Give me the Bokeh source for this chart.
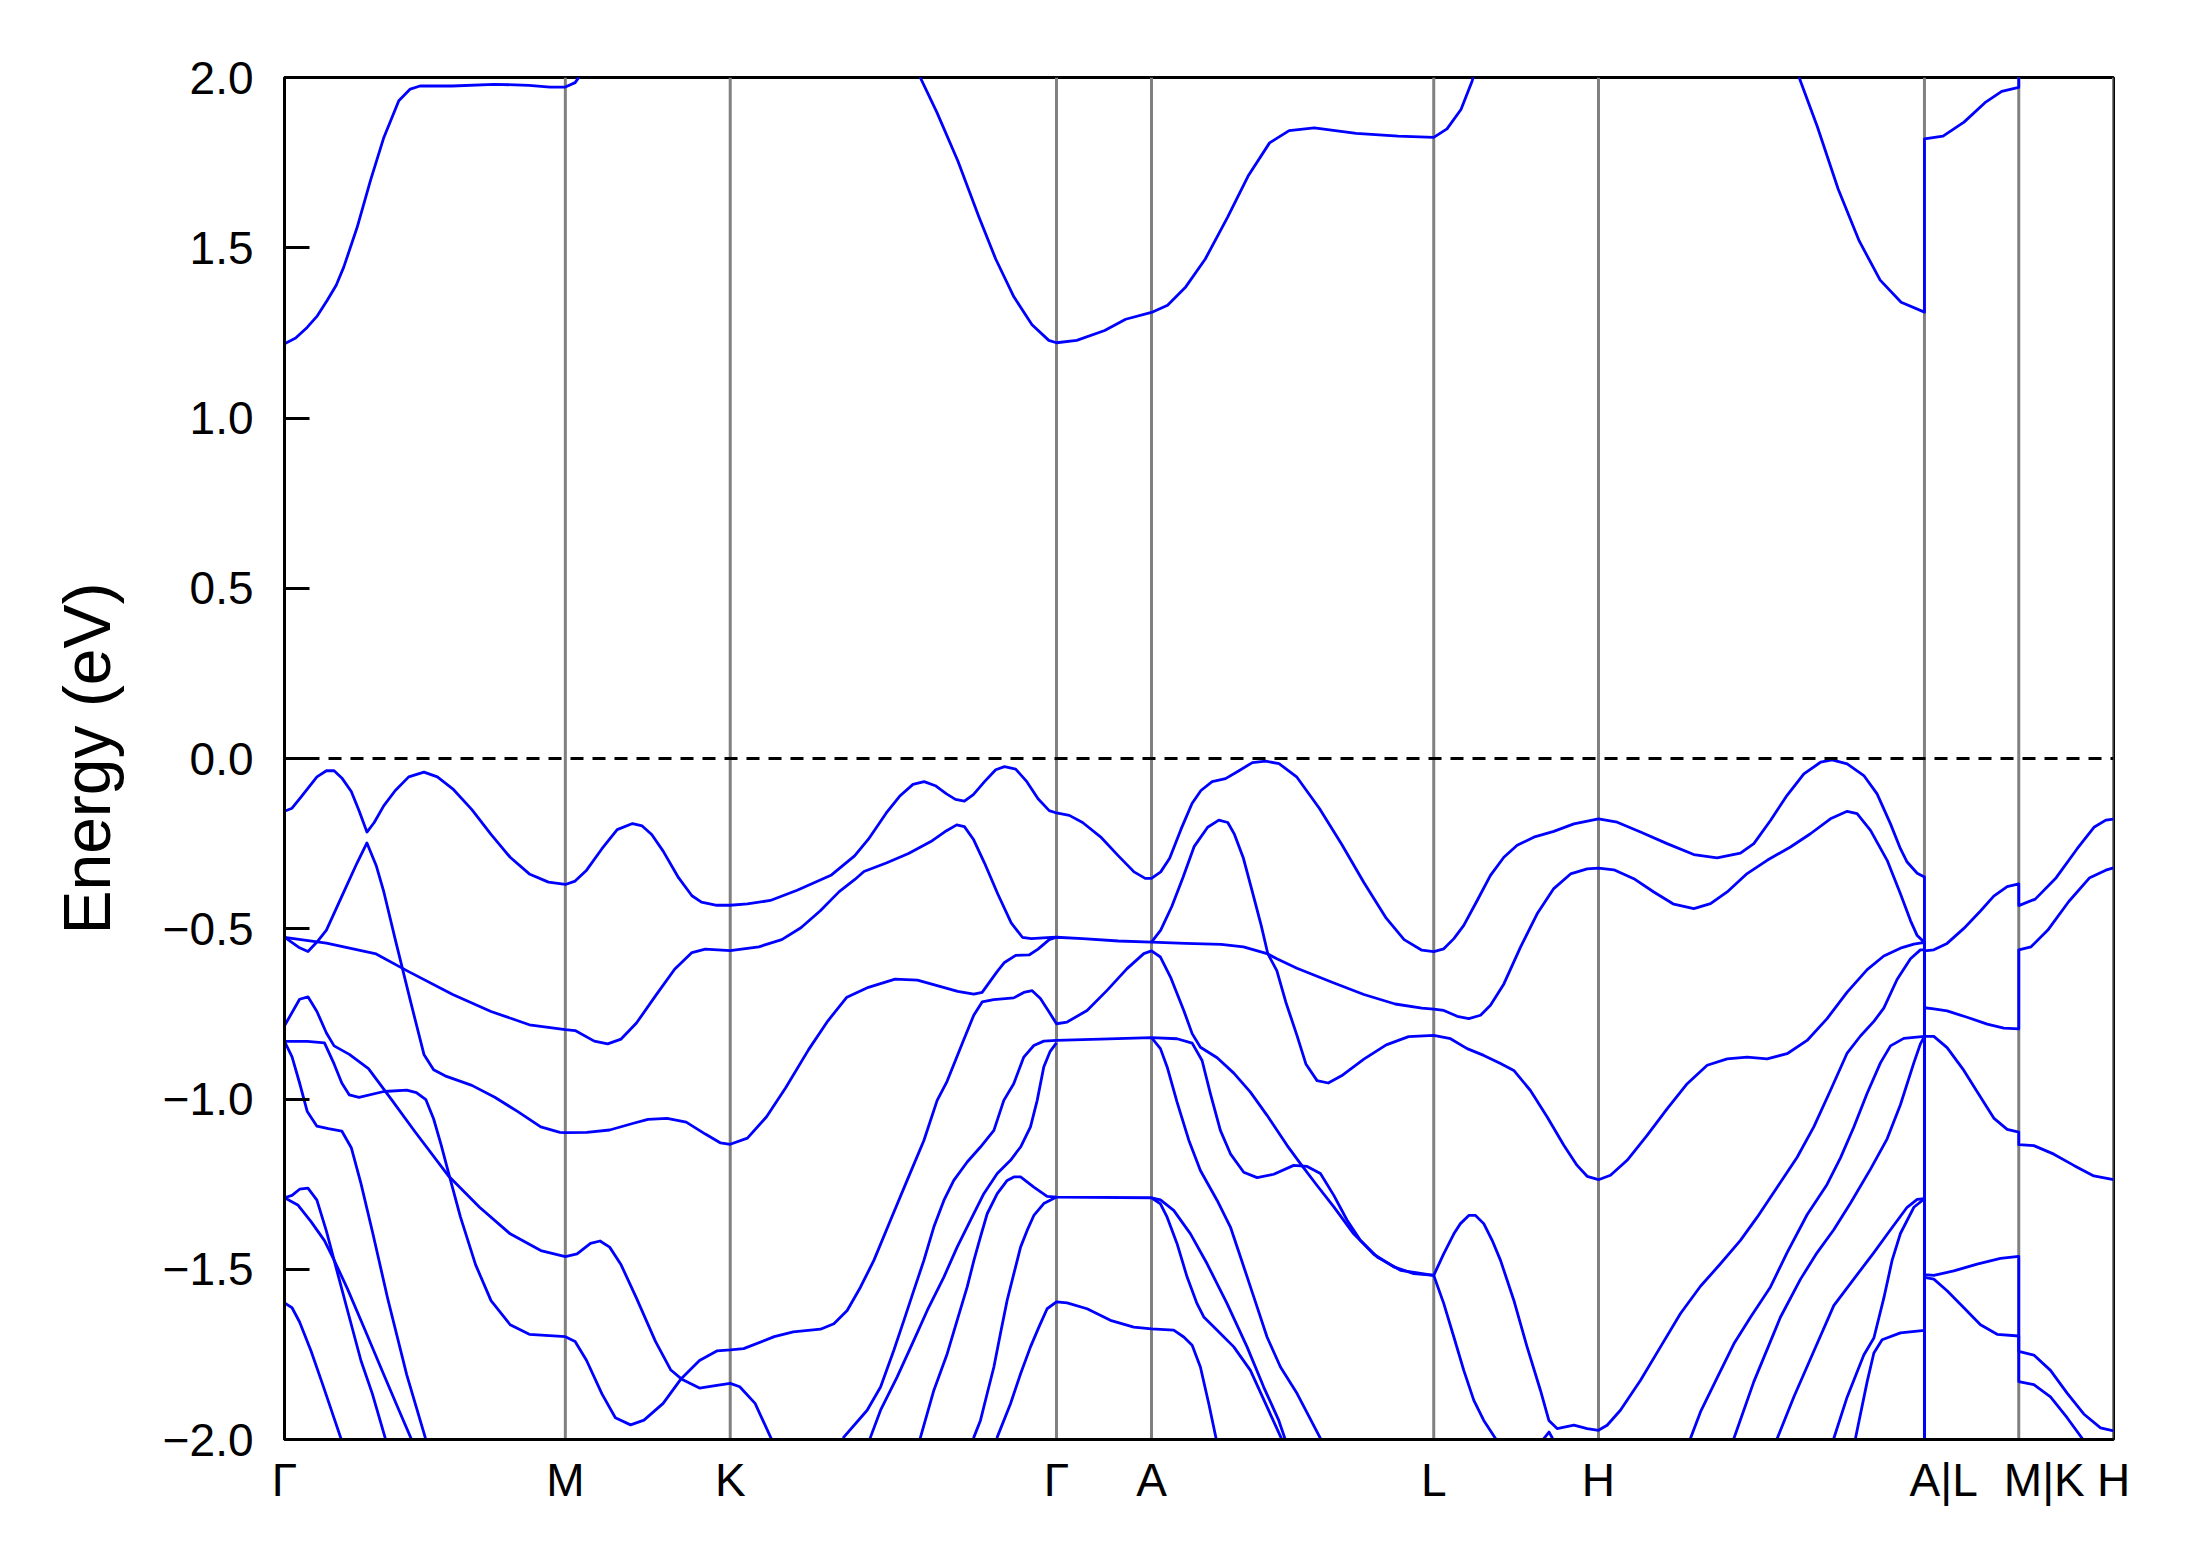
from bokeh.plotting import figure
from bokeh.models import Range1d, FixedTicker, Span
from bokeh.embed import file_html
from bokeh.resources import INLINE

# ---- high-symmetry path (k-distance) and labels ----
kpath_ticks = [0.0, 2.01, 3.19, 5.525, 6.205, 8.225, 9.404, 11.737, 12.412, 13.09]
kpath_labels = ["Γ", "M", "K", "Γ", "A", "L", "H", "\u00a0\u00a0\u00a0A|L", "\u00a0\u00a0\u00a0\u00a0M|K", "H"]
energy_ticks = [-2.0, -1.5, -1.0, -0.5, 0.0, 0.5, 1.0, 1.5, 2.0]
energy_labels = ["\u22122.0", "\u22121.5", "\u22121.0", "\u22120.5", "0.0", "0.5", "1.0", "1.5", "2.0"]

# ---- band curves (k, E in eV) ----
# top valence band: Γ-M-K
k_top_a = [0, 0.054, 0.122, 0.232, 0.30, 0.355, 0.41, 0.478, 0.533, 0.59, 0.642, 0.71, 0.793, 0.889, 0.998, 1.094, 1.204, 1.341, 1.478, 1.615, 1.752, 1.889, 2.01, 2.08, 2.162, 2.272, 2.381, 2.491, 2.56, 2.628, 2.71, 2.82, 2.916, 2.984, 3.094, 3.19, 3.313, 3.477, 3.669, 3.915, 4.08]
e_top_a = [-0.155, -0.146, -0.111, -0.054, -0.036, -0.036, -0.057, -0.097, -0.153, -0.216, -0.188, -0.139, -0.094, -0.054, -0.040, -0.054, -0.089, -0.150, -0.223, -0.290, -0.339, -0.363, -0.370, -0.360, -0.328, -0.265, -0.209, -0.191, -0.198, -0.223, -0.272, -0.350, -0.403, -0.422, -0.431, -0.431, -0.427, -0.417, -0.387, -0.342, -0.286]
# top valence band: K-Γ-A-L
k_top_b = [4.179, 4.307, 4.402, 4.498, 4.578, 4.658, 4.738, 4.802, 4.866, 4.93, 5.01, 5.09, 5.153, 5.233, 5.313, 5.393, 5.473, 5.525, 5.617, 5.712, 5.84, 5.968, 6.08, 6.16, 6.205, 6.271, 6.335, 6.415, 6.495, 6.559, 6.639, 6.735, 6.831, 6.927, 7.022, 7.118, 7.246, 7.406, 7.565, 7.725, 7.885, 8.013, 8.14, 8.225]
e_top_b = [-0.237, -0.160, -0.111, -0.076, -0.068, -0.080, -0.104, -0.120, -0.125, -0.106, -0.068, -0.033, -0.024, -0.031, -0.068, -0.118, -0.153, -0.160, -0.167, -0.188, -0.230, -0.286, -0.333, -0.352, -0.352, -0.333, -0.293, -0.209, -0.132, -0.094, -0.068, -0.059, -0.036, -0.012, -0.008, -0.015, -0.055, -0.146, -0.251, -0.364, -0.469, -0.532, -0.563, -0.567]
# top valence band: L-H-A
k_top_c = [8.297, 8.369, 8.44, 8.536, 8.631, 8.727, 8.822, 8.941, 9.084, 9.228, 9.404, 9.538, 9.705, 9.895, 10.086, 10.253, 10.42, 10.516, 10.635, 10.754, 10.874, 10.993, 11.076, 11.184, 11.303, 11.398, 11.494, 11.565, 11.613, 11.685, 11.737]
e_top_c = [-0.559, -0.529, -0.490, -0.417, -0.343, -0.290, -0.255, -0.231, -0.214, -0.192, -0.177, -0.187, -0.216, -0.250, -0.282, -0.292, -0.278, -0.250, -0.182, -0.108, -0.045, -0.011, -0.004, -0.016, -0.050, -0.104, -0.192, -0.265, -0.304, -0.337, -0.348]

# second band: Γ-M-K-Γ
k_b1_a = [0, 0.30, 0.656, 0.875, 1.204, 1.478, 1.752, 2.01, 2.08, 2.217, 2.313, 2.409, 2.519, 2.655, 2.792, 2.916, 3.012, 3.19, 3.395, 3.559, 3.696, 3.833, 3.97, 4.08]
e_b1_a = [-0.525, -0.542, -0.574, -0.623, -0.693, -0.743, -0.782, -0.796, -0.799, -0.830, -0.838, -0.824, -0.777, -0.697, -0.619, -0.570, -0.560, -0.564, -0.553, -0.532, -0.497, -0.448, -0.391, -0.356]
k_b1_b = [4.147, 4.307, 4.466, 4.626, 4.738, 4.811, 4.866, 4.93, 5.01, 5.105, 5.201, 5.281, 5.345, 5.457, 5.525]
e_b1_b = [-0.332, -0.307, -0.279, -0.244, -0.212, -0.195, -0.200, -0.237, -0.307, -0.398, -0.483, -0.525, -0.529, -0.526, -0.525]
# flat band Γ-A-L
k_f1 = [5.712, 5.968, 6.205, 6.447, 6.703, 6.863, 7.038, 7.102, 7.246, 7.502, 7.725, 7.949, 8.14, 8.225]
e_f1 = [-0.529, -0.536, -0.539, -0.543, -0.546, -0.553, -0.574, -0.588, -0.616, -0.658, -0.693, -0.721, -0.733, -0.736]
# L-H-A second band
k_t2 = [8.297, 8.393, 8.476, 8.56, 8.631, 8.727, 8.846, 8.965, 9.084, 9.204, 9.323, 9.404, 9.514, 9.657, 9.8, 9.943, 10.086, 10.206, 10.325, 10.468, 10.611, 10.778, 10.921, 11.064, 11.184, 11.255, 11.351, 11.47, 11.565, 11.637, 11.685, 11.737]
e_t2 = [-0.740, -0.757, -0.764, -0.754, -0.725, -0.662, -0.554, -0.456, -0.382, -0.339, -0.324, -0.322, -0.327, -0.353, -0.392, -0.428, -0.441, -0.426, -0.392, -0.338, -0.299, -0.260, -0.221, -0.177, -0.155, -0.162, -0.211, -0.299, -0.397, -0.476, -0.520, -0.540]

# band from Γ through K minimum (-1.13) back to Γ
k_v = [0, 0.108, 0.168, 0.232, 0.30, 0.41, 0.519, 0.59, 0.656, 0.711, 0.793, 0.903, 0.998, 1.067, 1.149, 1.341, 1.505, 1.67, 1.834, 1.971, 2.01, 2.163, 2.327, 2.491, 2.601, 2.738, 2.875, 3.012, 3.121, 3.19, 3.313, 3.45, 3.587, 3.751, 3.888, 4.025, 4.179, 4.37, 4.53, 4.69, 4.818, 4.933, 4.993, 5.1, 5.153, 5.233, 5.329, 5.393, 5.473, 5.525]
e_v = [-0.525, -0.556, -0.567, -0.539, -0.504, -0.405, -0.307, -0.248, -0.314, -0.392, -0.532, -0.715, -0.869, -0.914, -0.932, -0.960, -0.995, -1.037, -1.082, -1.098, -1.099, -1.098, -1.091, -1.072, -1.060, -1.057, -1.068, -1.103, -1.129, -1.133, -1.115, -1.052, -0.967, -0.855, -0.771, -0.701, -0.672, -0.648, -0.651, -0.669, -0.684, -0.692, -0.687, -0.626, -0.599, -0.578, -0.577, -0.560, -0.532, -0.525]

# band from Γ (-0.78) to M (-1.46) and K (-1.84)
k_c = [0, 0.108, 0.168, 0.232, 0.30, 0.355, 0.464, 0.601, 0.766, 0.93, 1.176, 1.396, 1.615, 1.834, 2.01, 2.094, 2.19, 2.258, 2.327, 2.409, 2.519, 2.655, 2.765, 2.847, 2.97, 3.094, 3.19, 3.258, 3.368, 3.52]
e_c = [-0.785, -0.707, -0.700, -0.743, -0.806, -0.844, -0.869, -0.911, -1.002, -1.094, -1.227, -1.318, -1.396, -1.445, -1.463, -1.455, -1.424, -1.417, -1.435, -1.487, -1.585, -1.712, -1.796, -1.824, -1.849, -1.841, -1.835, -1.845, -1.894, -2.030]

# band from Γ (-0.83) via M (-1.70), K (-1.74) up to Γ (-0.78), A, L, H, A
k_d_a = [0, 0.163, 0.286, 0.355, 0.41, 0.464, 0.533, 0.711, 0.875, 0.944, 1.012, 1.067, 1.122, 1.176, 1.259, 1.368, 1.478, 1.615, 1.752, 2.01, 2.08, 2.162, 2.272, 2.368, 2.477, 2.573, 2.71, 2.834, 2.97, 3.094, 3.19, 3.286, 3.505, 3.641, 3.836, 3.932, 4.027, 4.123, 4.218, 4.337, 4.456, 4.576, 4.671, 4.742, 4.862, 4.933, 4.993, 5.076, 5.219, 5.291, 5.351, 5.41, 5.47, 5.525]
e_d_a = [-0.831, -0.831, -0.835, -0.897, -0.953, -0.988, -0.995, -0.978, -0.974, -0.981, -1.002, -1.058, -1.136, -1.220, -1.346, -1.487, -1.592, -1.663, -1.691, -1.698, -1.712, -1.768, -1.866, -1.936, -1.957, -1.943, -1.894, -1.824, -1.768, -1.740, -1.737, -1.733, -1.698, -1.684, -1.676, -1.660, -1.621, -1.552, -1.474, -1.356, -1.239, -1.122, -1.004, -0.948, -0.825, -0.754, -0.715, -0.708, -0.703, -0.687, -0.682, -0.705, -0.743, -0.779]
k_d_b = [5.601, 5.744, 5.887, 6.03, 6.15, 6.205, 6.269, 6.341, 6.436, 6.496, 6.555, 6.675, 6.794, 6.913, 7.032, 7.175, 7.271, 7.39, 7.51, 7.652, 7.796, 7.939, 8.082, 8.225]
e_d_b = [-0.774, -0.740, -0.681, -0.617, -0.573, -0.565, -0.583, -0.642, -0.740, -0.808, -0.848, -0.879, -0.924, -0.980, -1.048, -1.136, -1.190, -1.254, -1.317, -1.396, -1.456, -1.493, -1.513, -1.518]
k_d_c = [8.297, 8.369, 8.416, 8.476, 8.524, 8.583, 8.643, 8.703, 8.798, 8.893, 8.989, 9.049, 9.108, 9.228, 9.323, 9.404, 9.466, 9.561, 9.705, 9.848, 9.991, 10.134, 10.277, 10.42, 10.54, 10.683, 10.826, 10.945, 11.064, 11.184, 11.279, 11.375, 11.446, 11.541, 11.637, 11.708, 11.737]
e_d_c = [-1.454, -1.396, -1.366, -1.342, -1.342, -1.366, -1.415, -1.474, -1.591, -1.728, -1.856, -1.944, -1.968, -1.958, -1.968, -1.973, -1.958, -1.914, -1.826, -1.728, -1.630, -1.550, -1.484, -1.415, -1.347, -1.259, -1.171, -1.082, -0.975, -0.865, -0.815, -0.772, -0.733, -0.649, -0.588, -0.562, -0.562]

# lower bands leaving Γ towards M
k_e = [0, 0.054, 0.108, 0.163, 0.232, 0.314, 0.41, 0.478, 0.547, 0.629, 0.738, 0.875, 1.026]
e_e = [-0.831, -0.876, -0.953, -1.037, -1.080, -1.087, -1.094, -1.143, -1.248, -1.389, -1.585, -1.810, -2.020]
k_f = [0, 0.054, 0.108, 0.168, 0.232, 0.30, 0.382, 0.464, 0.547, 0.629, 0.738]
e_f = [-1.290, -1.283, -1.265, -1.262, -1.297, -1.388, -1.515, -1.641, -1.768, -1.866, -2.020]
k_g = [0, 0.095, 0.19, 0.286, 0.355, 0.45, 0.574, 0.711, 0.82, 0.93]
e_g = [-1.290, -1.311, -1.360, -1.416, -1.473, -1.557, -1.676, -1.810, -1.915, -2.020]
k_h = [0, 0.054, 0.108, 0.19, 0.273, 0.423]
e_h = [-1.599, -1.613, -1.655, -1.740, -1.838, -2.020]

# band from A (-0.54) over peak (-0.18) to L (-0.81), H (-1.24), A
k_s = [6.205, 6.271, 6.351, 6.431, 6.511, 6.607, 6.687, 6.751, 6.799, 6.863, 6.927, 6.99, 7.038, 7.102, 7.166, 7.246, 7.31, 7.39, 7.47, 7.565, 7.725, 7.885, 8.045, 8.225]
e_s = [-0.539, -0.504, -0.434, -0.349, -0.258, -0.202, -0.181, -0.188, -0.223, -0.293, -0.392, -0.490, -0.574, -0.623, -0.715, -0.813, -0.897, -0.946, -0.953, -0.932, -0.883, -0.841, -0.817, -0.813]
k_q = [8.345, 8.464, 8.583, 8.703, 8.798, 8.917, 9.037, 9.156, 9.251, 9.323, 9.404, 9.49, 9.609, 9.752, 9.895, 10.039, 10.182, 10.325, 10.468, 10.611, 10.754, 10.897, 11.04, 11.184, 11.327, 11.446, 11.565, 11.661, 11.737]
e_q = [-0.823, -0.852, -0.872, -0.896, -0.916, -0.975, -1.053, -1.136, -1.195, -1.227, -1.237, -1.224, -1.180, -1.107, -1.029, -0.955, -0.901, -0.882, -0.877, -0.882, -0.867, -0.828, -0.764, -0.686, -0.620, -0.580, -0.557, -0.545, -0.540]

# bands rising from below into Γ (-0.83)
k_k2a = [3.98, 4.003, 4.17, 4.266, 4.361, 4.433, 4.504, 4.576, 4.647, 4.719, 4.79, 4.886, 4.981, 5.077, 5.148, 5.219, 5.291, 5.363, 5.434, 5.525]
e_k2a = [-2.020, -1.993, -1.914, -1.846, -1.738, -1.650, -1.562, -1.474, -1.376, -1.298, -1.239, -1.185, -1.141, -1.092, -1.004, -0.955, -0.877, -0.843, -0.830, -0.828]
k_r2 = [5.84, 6.205, 6.388, 6.496, 6.567, 6.627, 6.698, 6.77, 6.865, 6.961, 7.08, 7.223, 7.319, 7.414, 7.51, 7.605, 7.7, 7.82, 7.987, 8.225]
e_r2 = [-0.824, -0.820, -0.823, -0.836, -0.887, -0.985, -1.092, -1.161, -1.215, -1.231, -1.221, -1.195, -1.198, -1.219, -1.283, -1.356, -1.415, -1.464, -1.503, -1.518]
k_l2 = [8.297, 8.369, 8.44, 8.512, 8.583, 8.667, 8.70]
e_l2 = [-1.601, -1.699, -1.797, -1.885, -1.944, -1.997, -2.030]
k_k2b = [4.18, 4.194, 4.266, 4.385, 4.504, 4.6, 4.719, 4.814, 4.91, 5.005, 5.101, 5.196, 5.268, 5.339, 5.387, 5.434, 5.48, 5.525]
e_k2b = [-2.020, -1.993, -1.914, -1.816, -1.709, -1.621, -1.523, -1.435, -1.356, -1.278, -1.219, -1.180, -1.141, -1.082, -1.004, -0.906, -0.860, -0.835]
k_r3 = [6.205, 6.269, 6.317, 6.388, 6.472, 6.555, 6.675, 6.77, 6.842, 6.937, 7.032, 7.128, 7.247, 7.414, 7.45]
e_r3 = [-0.820, -0.852, -0.906, -1.009, -1.121, -1.210, -1.298, -1.376, -1.464, -1.581, -1.699, -1.787, -1.865, -1.997, -2.030]

# bands into Γ (-1.29) and the Γ-A flat band
k_k3a = [4.54, 4.552, 4.647, 4.743, 4.814, 4.886, 4.934, 4.981, 5.029, 5.101, 5.172, 5.22, 5.268, 5.363, 5.458, 5.525, 6.205]
e_k3a = [-2.020, -1.993, -1.856, -1.748, -1.650, -1.552, -1.474, -1.405, -1.337, -1.278, -1.239, -1.229, -1.229, -1.259, -1.286, -1.288, -1.290]
k_la1 = [6.269, 6.317, 6.388, 6.46, 6.531, 6.579, 6.675, 6.794, 6.913, 7.032, 7.14, 7.16]
e_la1 = [-1.308, -1.347, -1.425, -1.523, -1.601, -1.640, -1.679, -1.728, -1.797, -1.904, -2.002, -2.030]
k_k3b = [4.92, 4.934, 4.981, 5.029, 5.077, 5.124, 5.172, 5.22, 5.268, 5.315, 5.363, 5.434, 5.525]
e_k3b = [-2.020, -1.993, -1.944, -1.865, -1.787, -1.689, -1.591, -1.513, -1.435, -1.386, -1.342, -1.307, -1.288]
k_la2 = [6.205, 6.269, 6.364, 6.484, 6.603, 6.746, 6.889, 7.008, 7.116, 7.164, 7.18]
e_la2 = [-1.290, -1.296, -1.327, -1.396, -1.484, -1.601, -1.728, -1.846, -1.944, -2.002, -2.030]
k_k4 = [5.09, 5.101, 5.196, 5.268, 5.339, 5.399, 5.458, 5.525, 5.601, 5.744, 5.911, 6.078, 6.205, 6.364, 6.436, 6.496, 6.555, 6.615, 6.67, 6.68]
e_k4 = [-2.020, -1.993, -1.895, -1.807, -1.728, -1.670, -1.616, -1.596, -1.599, -1.616, -1.650, -1.670, -1.675, -1.679, -1.699, -1.723, -1.787, -1.895, -2.002, -2.030]

# small maximum just inside the window near H
k_bump = [8.95, 9.05, 9.12]
e_bump = [-2.030, -1.978, -2.030]

# bands rising from below between H and A
k_p2 = [10.04, 10.062, 10.134, 10.253, 10.373, 10.492, 10.635, 10.754, 10.897, 11.04, 11.136, 11.231, 11.327, 11.422, 11.494, 11.589, 11.737]
e_p2 = [-2.030, -1.997, -1.919, -1.819, -1.719, -1.641, -1.552, -1.451, -1.340, -1.251, -1.173, -1.083, -0.983, -0.894, -0.844, -0.822, -0.816]
k_p3 = [10.36, 10.373, 10.516, 10.706, 10.85, 10.969, 11.088, 11.207, 11.351, 11.47, 11.565, 11.661, 11.708, 11.737, 11.737]
e_p3 = [-2.030, -1.997, -1.830, -1.641, -1.529, -1.451, -1.384, -1.306, -1.206, -1.117, -1.017, -0.894, -0.838, -0.816, -2.100]
k_p4 = [10.67, 10.683, 10.802, 10.945, 11.088, 11.231, 11.375, 11.494, 11.613, 11.685, 11.737, 11.737]
e_p4 = [-2.030, -1.997, -1.875, -1.741, -1.607, -1.529, -1.451, -1.384, -1.318, -1.295, -1.293, -2.100]
k_p5 = [11.08, 11.088, 11.184, 11.303, 11.375, 11.446, 11.506, 11.565, 11.661, 11.737, 11.737]
e_p5 = [-2.030, -1.997, -1.875, -1.752, -1.702, -1.585, -1.473, -1.395, -1.318, -1.293, -2.100]
k_p6 = [11.235, 11.243, 11.327, 11.375, 11.434, 11.565, 11.72, 11.737, 11.737]
e_p6 = [-2.030, -1.997, -1.830, -1.746, -1.707, -1.687, -1.680, -1.680, -2.100]

# L-M segment
k_lm1 = [11.737, 11.804, 11.899, 12.019, 12.138, 12.233, 12.329, 12.412]
e_lm1 = [-0.565, -0.562, -0.543, -0.499, -0.448, -0.404, -0.376, -0.368]
k_lm2 = [11.737, 11.804, 11.899, 12.042, 12.186, 12.305, 12.412]
e_lm2 = [-0.732, -0.735, -0.741, -0.760, -0.780, -0.792, -0.794]
k_lm3 = [11.737, 11.804, 11.899, 12.019, 12.138, 12.233, 12.329, 12.412]
e_lm3 = [-0.816, -0.816, -0.849, -0.916, -0.994, -1.056, -1.089, -1.097]
k_lm4 = [11.737, 11.804, 11.947, 12.114, 12.281, 12.412]
e_lm4 = [-1.516, -1.518, -1.505, -1.485, -1.468, -1.462]
k_lm5 = [11.737, 11.804, 11.899, 12.019, 12.138, 12.257, 12.412]
e_lm5 = [-1.524, -1.529, -1.563, -1.613, -1.663, -1.691, -1.696]

# K-H segment
k_kh1 = [12.412, 12.53, 12.68, 12.83, 12.95, 13.035, 13.09]
e_kh1 = [-0.432, -0.413, -0.350, -0.265, -0.202, -0.181, -0.178]
k_kh2 = [12.412, 12.5, 12.62, 12.77, 12.92, 13.035, 13.09]
e_kh2 = [-0.562, -0.553, -0.504, -0.420, -0.350, -0.328, -0.321]
k_kh3 = [12.412, 12.52, 12.663, 12.806, 12.949, 13.09]
e_kh3 = [-1.134, -1.137, -1.162, -1.195, -1.226, -1.237]
k_kh4 = [12.412, 12.52, 12.639, 12.758, 12.877, 12.997, 13.09]
e_kh4 = [-1.741, -1.752, -1.797, -1.864, -1.925, -1.966, -1.975]
k_kh5 = [12.412, 12.52, 12.639, 12.758, 12.877, 12.95]
e_kh5 = [-1.830, -1.839, -1.875, -1.936, -2.003, -2.050]

# conduction bands
k_cb1 = [0, 0.08, 0.162, 0.235, 0.305, 0.37, 0.424, 0.52, 0.615, 0.711, 0.818, 0.90, 0.97, 1.2, 1.5, 1.75, 1.9, 2.01, 2.08, 2.14]
e_cb1 = [1.218, 1.235, 1.266, 1.300, 1.345, 1.390, 1.443, 1.560, 1.697, 1.824, 1.932, 1.966, 1.975, 1.975, 1.980, 1.977, 1.972, 1.972, 1.985, 2.020]
k_cb2 = [4.54, 4.55, 4.67, 4.82, 4.97, 5.09, 5.22, 5.35, 5.47, 5.525, 5.67, 5.87, 6.02, 6.205, 6.32, 6.45, 6.59, 6.75, 6.90, 7.05, 7.19, 7.37, 7.67, 7.97, 8.225, 8.32, 8.42, 8.50, 8.53]
e_cb2 = [2.030, 2.000, 1.897, 1.754, 1.590, 1.467, 1.356, 1.274, 1.228, 1.221, 1.228, 1.257, 1.290, 1.310, 1.331, 1.385, 1.467, 1.590, 1.713, 1.808, 1.844, 1.852, 1.836, 1.828, 1.824, 1.849, 1.906, 1.990, 2.030]
k_cb3 = [10.83, 10.84, 10.97, 11.12, 11.27, 11.42, 11.57, 11.737]
e_cb3 = [2.030, 2.000, 1.856, 1.672, 1.520, 1.405, 1.340, 1.311]
k_cb3_lm = [11.737, 11.87, 12.02, 12.17, 12.29, 12.412, 12.412]
e_cb3_lm = [1.820, 1.828, 1.869, 1.926, 1.959, 1.971, 2.100]

# each band = sequence of curves joined end to end (duplicate k gives the vertical jumps)
bands = [
    [(k_top_a, e_top_a), (k_top_b, e_top_b), (k_top_c, e_top_c), (k_lm1, e_lm1), (k_kh1, e_kh1)],
    [(k_b1_a, e_b1_a), (k_b1_b, e_b1_b), (k_f1, e_f1), (k_t2, e_t2), (k_lm2, e_lm2), (k_kh2, e_kh2)],
    [(k_v, e_v)],
    [(k_c, e_c)],
    [(k_d_a, e_d_a), (k_d_b, e_d_b), (k_d_c, e_d_c), (k_lm4, e_lm4), (k_kh5, e_kh5)],
    [(k_e, e_e)], [(k_f, e_f)], [(k_g, e_g)], [(k_h, e_h)],
    [(k_s, e_s), (k_q, e_q), (k_lm3, e_lm3), (k_kh3, e_kh3)],
    [(k_k2a, e_k2a), (k_r2, e_r2), (k_l2, e_l2)],
    [(k_k2b, e_k2b)], [(k_r3, e_r3)],
    [(k_k3a, e_k3a), (k_la1, e_la1)], [(k_k3b, e_k3b)], [(k_la2, e_la2)],
    [(k_k4, e_k4)], [(k_bump, e_bump)],
    [(k_p2, e_p2), (k_lm5, e_lm5), (k_kh4, e_kh4)],
    [(k_p3, e_p3)], [(k_p4, e_p4)], [(k_p5, e_p5)], [(k_p6, e_p6)],
    [(k_cb1, e_cb1)], [(k_cb2, e_cb2)], [(k_cb3, e_cb3), (k_cb3_lm, e_cb3_lm)],
]

p = figure(width=2185, height=1549, output_backend="svg", toolbar_location=None,
           x_range=Range1d(kpath_ticks[0], kpath_ticks[-1]), y_range=Range1d(-2.0, 2.0),
           min_border_left=284, min_border_right=72, min_border_top=77, min_border_bottom=110)
p.background_fill_color = "white"
p.border_fill_color = "white"
p.outline_line_color = "black"
p.outline_line_width = 3
p.xgrid.visible = False
p.ygrid.visible = False

for k in kpath_ticks:
    p.add_layout(Span(location=k, dimension="height", line_color="#808080", line_width=3, level="underlay"))
p.add_layout(Span(location=0.0, dimension="width", line_color="black", line_width=3, line_dash="13 9"))

for band in bands:
    ks, es = [], []
    for kk, ee in band:
        ks += list(kk)
        es += list(ee)
    p.line(ks, es, line_color="#0000ff", line_width=2.8, line_join="round")

font = "Liberation Sans"
xa = p.xaxis[0]
xa.ticker = FixedTicker(ticks=kpath_ticks)
xa.major_label_overrides = {t: l for t, l in zip(kpath_ticks, kpath_labels)}
xa.major_tick_in = 0
xa.major_tick_out = 0
xa.minor_tick_in = 0
xa.minor_tick_out = 0
xa.axis_line_width = 3
xa.major_label_text_font = font
xa.major_label_text_font_size = "46px"
xa.major_label_text_color = "black"
xa.major_label_standoff = 14

ya = p.yaxis[0]
ya.ticker = FixedTicker(ticks=energy_ticks)
ya.major_label_overrides = {t: l for t, l in zip(energy_ticks, energy_labels)}
ya.major_tick_in = 25
ya.major_tick_out = 0
ya.major_tick_line_width = 3
ya.minor_tick_in = 0
ya.minor_tick_out = 0
ya.axis_line_width = 3
ya.major_label_text_font = font
ya.major_label_text_font_size = "46px"
ya.major_label_text_color = "black"
ya.major_label_standoff = 31
ya.axis_label = "Energy (eV)"
ya.axis_label_text_font = font
ya.axis_label_text_font_size = "66px"
ya.axis_label_text_font_style = "normal"
ya.axis_label_text_color = "black"
ya.axis_label_standoff = 36

open("out.html", "w").write(file_html(p, INLINE))
